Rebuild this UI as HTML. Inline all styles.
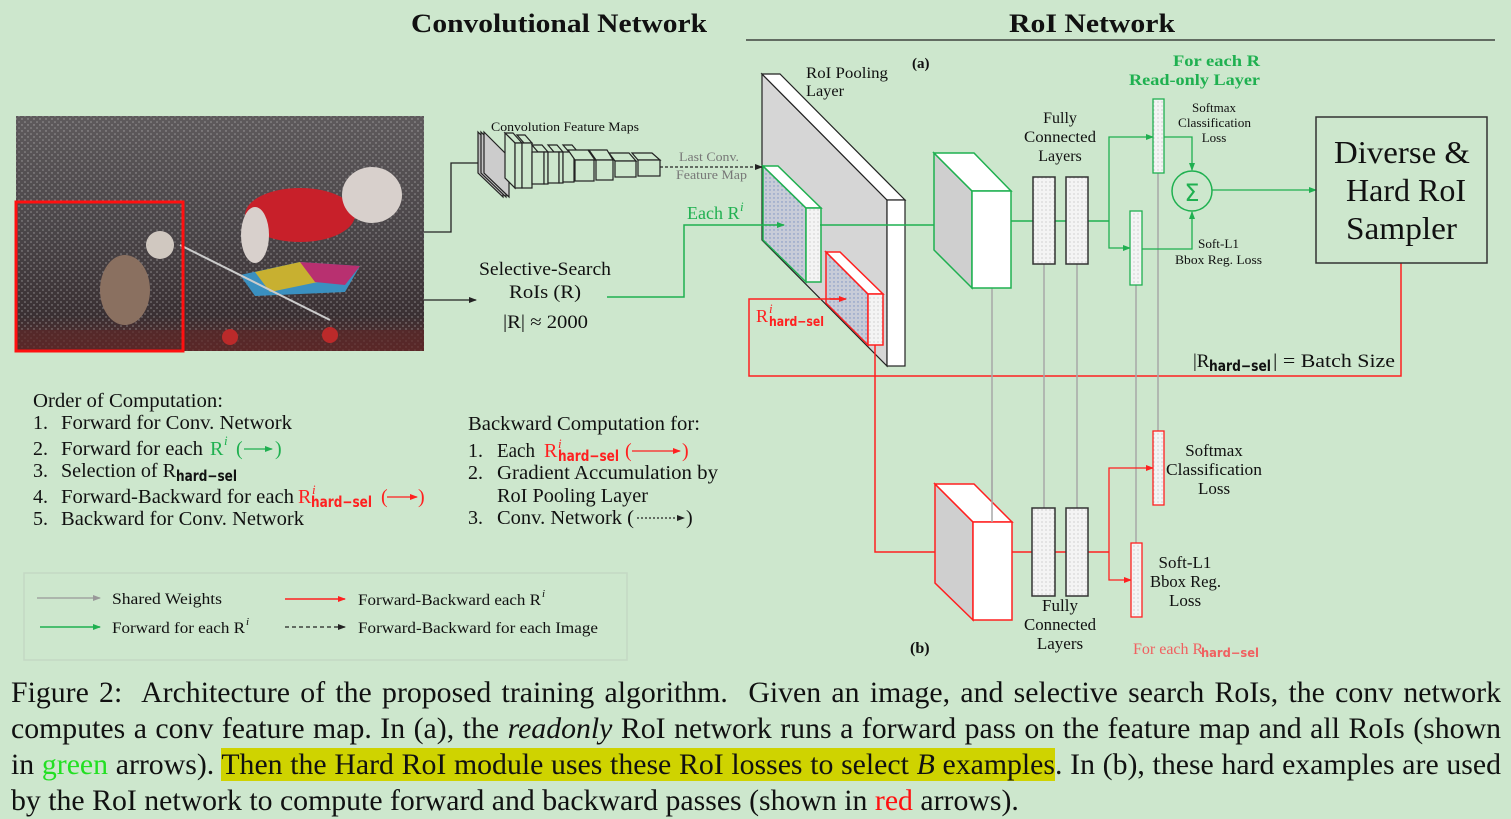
<!DOCTYPE html>
<html><head><meta charset="utf-8"><style>
html,body{margin:0;padding:0;background:#cde7cd;}
body{width:1511px;height:816px;position:relative;overflow:hidden;font-family:"Liberation Serif",serif;}
svg{position:absolute;left:0;top:0;}
.cap{position:absolute;left:11px;width:1490px;font-size:29.8px;line-height:36px;color:#111;text-align:justify;text-align-last:justify;white-space:nowrap;}
.cap.last{text-align-last:left;}
.hl{background:#cfd300;}
</style></head><body>
<svg width="1511" height="816" viewBox="0 0 1511 816" font-family="Liberation Serif, serif">
<defs>
<marker id="ak" markerWidth="8" markerHeight="6" refX="7" refY="3" orient="auto" markerUnits="userSpaceOnUse"><path d="M0,0 L8,3 L0,6 z" fill="#222"/></marker>
<marker id="ag" markerWidth="8" markerHeight="6" refX="7" refY="3" orient="auto" markerUnits="userSpaceOnUse"><path d="M0,0 L8,3 L0,6 z" fill="#1fb050"/></marker>
<marker id="ar" markerWidth="8" markerHeight="6" refX="7" refY="3" orient="auto" markerUnits="userSpaceOnUse"><path d="M0,0 L8,3 L0,6 z" fill="#ff2020"/></marker>
<marker id="ay" markerWidth="8" markerHeight="6" refX="7" refY="3" orient="auto" markerUnits="userSpaceOnUse"><path d="M0,0 L8,3 L0,6 z" fill="#999"/></marker>
<pattern id="dots" width="4" height="4" patternUnits="userSpaceOnUse"><rect width="4" height="4" fill="#f4f4f4"/><circle cx="2" cy="2" r="0.6" fill="#bbb"/></pattern>
<pattern id="bdots" width="4" height="4" patternUnits="userSpaceOnUse"><rect width="4" height="4" fill="#c8ccd8"/><circle cx="2" cy="2" r="0.7" fill="#7a90c0"/></pattern>
<linearGradient id="ph" x1="0" y1="0" x2="0" y2="1"><stop offset="0" stop-color="#5e5a5c"/><stop offset="0.5" stop-color="#4a4548"/><stop offset="0.85" stop-color="#3a3033"/><stop offset="1" stop-color="#5b2a2a"/></linearGradient>
<pattern id="spk" width="6" height="6" patternUnits="userSpaceOnUse"><circle cx="1" cy="2" r="0.8" fill="#bbb" opacity="0.6"/><circle cx="4" cy="5" r="0.7" fill="#eee" opacity="0.5"/></pattern>
</defs>

<text x="411" y="32" font-size="26" font-weight="bold" fill="#111" textLength="296" lengthAdjust="spacingAndGlyphs">Convolutional Network</text>
<text x="1009" y="32" font-size="26" font-weight="bold" fill="#111" textLength="166" lengthAdjust="spacingAndGlyphs">RoI Network</text>
<line x1="746" y1="40" x2="1495" y2="40" stroke="#222" stroke-width="1.2"/>

<rect x="16" y="116" width="408" height="235" fill="url(#ph)"/>
<rect x="16" y="116" width="408" height="235" fill="url(#spk)"/>
<rect x="16" y="330" width="408" height="21" fill="#5a2828" opacity="0.7"/>
<ellipse cx="300" cy="215" rx="55" ry="27" fill="#c8202a"/>
<ellipse cx="372" cy="195" rx="30" ry="28" fill="#d8d0cc"/>
<ellipse cx="255" cy="235" rx="14" ry="28" fill="#d8d0cc"/>
<path d="M240,275 L300,262 L360,266 L345,292 L255,296 z" fill="#3a90c0"/>
<path d="M255,272 L300,262 L318,282 L270,292 z" fill="#c8b030"/>
<path d="M300,262 L360,266 L345,285 L315,282 z" fill="#b83070"/>
<circle cx="230" cy="337" r="8" fill="#bb2a2a"/><circle cx="330" cy="335" r="8" fill="#bb2a2a"/>
<line x1="180" y1="245" x2="330" y2="320" stroke="#ccc" stroke-width="2"/>
<ellipse cx="125" cy="290" rx="25" ry="35" fill="#8a7060"/>
<ellipse cx="160" cy="245" rx="14" ry="14" fill="#d0c8c0"/>
<rect x="16" y="202" width="167" height="149" fill="none" stroke="#ff1010" stroke-width="3"/>

<polyline points="424,232 451,232 451,163 488,163" fill="none" stroke="#222" stroke-width="1.3" marker-end="url(#ak)"/>
<line x1="424" y1="300" x2="476" y2="300" stroke="#222" stroke-width="1.3" marker-end="url(#ak)"/>

<text x="491" y="131" font-size="13" fill="#111" textLength="148" lengthAdjust="spacingAndGlyphs">Convolution Feature Maps</text>
<g stroke="#222" stroke-width="1.2">
<polygon points="478,132 503,157 503,197 478,173" fill="#bbb"/>
<polygon points="481,132 506,157 506,197 481,173" fill="#c4c4c4"/>
<polygon points="484,132 509,157 509,197 484,173" fill="#ccc"/>
<polygon points="505,133 513,133 522,143 515,143" fill="#cde7cd"/>
<polygon points="505,133 515,143 515,188 505,178" fill="#cde7cd"/>
<rect x="515" y="143" width="7" height="45" fill="#cde7cd"/>
<polygon points="517,135 525,135 532,143 524,143" fill="#cde7cd"/>
<rect x="522" y="143" width="10" height="45" fill="#cde7cd"/>
<polygon points="532,145 542,145 548,152 538,152" fill="#cde7cd"/>
<rect x="532" y="152" width="12" height="32" fill="#cde7cd"/><rect x="544" y="152" width="4" height="32" fill="#cde7cd"/>
<polygon points="548,145 557,145 563,152 554,152" fill="#cde7cd"/>
<rect x="548" y="152" width="11" height="31" fill="#cde7cd"/><rect x="559" y="152" width="4" height="31" fill="#cde7cd"/>
<polygon points="563,145 572,145 578,152 569,152" fill="#cde7cd"/>
<rect x="563" y="152" width="11" height="30" fill="#cde7cd"/>
<polygon points="568,150 588,150 595,160 575,160" fill="#cde7cd"/>
<rect x="575" y="160" width="19" height="21" fill="#cde7cd"/>
<polygon points="589,150 607,150 613,160 596,160" fill="#cde7cd"/>
<rect x="596" y="160" width="17" height="20" fill="#cde7cd"/>
<polygon points="609,153 629,153 636,161 615,161" fill="#cde7cd"/>
<rect x="615" y="161" width="21" height="16" fill="#cde7cd"/>
<polygon points="632,153 652,153 660,160 638,160" fill="#cde7cd"/>
<rect x="638" y="160" width="22" height="16" fill="#cde7cd"/>
</g>
<line x1="660" y1="167" x2="762" y2="167" stroke="#222" stroke-width="1.2" stroke-dasharray="3,2" marker-end="url(#ak)"/>
<text x="679" y="161" font-size="13" fill="#777" textLength="60" lengthAdjust="spacingAndGlyphs">Last Conv.</text>
<text x="676" y="179" font-size="13" fill="#777" textLength="71" lengthAdjust="spacingAndGlyphs">Feature Map</text>

<text x="479" y="275" font-size="19" fill="#111" textLength="132" lengthAdjust="spacingAndGlyphs">Selective-Search</text>
<text x="509" y="298" font-size="19" fill="#111" textLength="72" lengthAdjust="spacingAndGlyphs">RoIs (R)</text>
<text x="503" y="328" font-size="19" fill="#111" textLength="85" lengthAdjust="spacingAndGlyphs">|R| ≈ 2000</text>

<polygon points="762,74 887,200 887,366 762,240" fill="#d6d6d6" stroke="#222" stroke-width="1.2"/>
<polygon points="762,74 780,74 905,200 887,200" fill="#fff" stroke="#222" stroke-width="1.2"/>
<rect x="887" y="200" width="18" height="166" fill="#fff" stroke="#222" stroke-width="1.2"/>
<text x="806" y="78" font-size="16" fill="#111" textLength="82" lengthAdjust="spacingAndGlyphs">RoI Pooling</text>
<text x="806" y="96" font-size="16" fill="#111" textLength="38" lengthAdjust="spacingAndGlyphs">Layer</text>
<text x="912" y="68" font-size="15" font-weight="bold" fill="#111">(a)</text>

<polygon points="763,166 806,208 806,282 763,240" fill="url(#bdots)" stroke="#1fb050" stroke-width="1.5"/>
<polygon points="763,166 778,166 821,208 806,208" fill="#fff" stroke="#1fb050" stroke-width="1.5"/>
<rect x="806" y="208" width="15" height="74" fill="url(#dots)" stroke="#1fb050" stroke-width="1.5"/>
<polygon points="826,252 868,294 868,345 826,303" fill="url(#bdots)" stroke="#ff2020" stroke-width="1.5"/>
<polygon points="826,252 840,252 883,294 868,294" fill="#fff" stroke="#ff2020" stroke-width="1.5"/>
<rect x="868" y="294" width="15" height="51" fill="url(#dots)" stroke="#ff2020" stroke-width="1.5"/>

<polyline points="607,297 684,297 684,225 784,225" fill="none" stroke="#1fb050" stroke-width="1.5" marker-end="url(#ag)"/>
<line x1="820" y1="225" x2="948" y2="225" stroke="#1fb050" stroke-width="1.5" marker-end="url(#ag)"/>
<text x="687" y="219" font-size="18" fill="#1fb050">Each R</text>
<text x="740" y="211" font-size="13" font-style="italic" fill="#1fb050">i</text>

<polyline points="844,299 749,299 749,376 1401,376 1401,263" fill="none" stroke="#ff2020" stroke-width="1.5"/>
<line x1="830" y1="299" x2="846" y2="299" stroke="#ff2020" stroke-width="1.5" marker-end="url(#ar)"/>
<polyline points="875,345 875,552 952,552" fill="none" stroke="#ff2020" stroke-width="1.5" marker-end="url(#ar)"/>
<text x="756" y="322" font-size="18" fill="#ff2020">R</text>
<text x="769" y="326" font-size="13" font-weight="bold" font-family="DejaVu Sans, sans-serif" fill="#ff2020" textLength="55" lengthAdjust="spacingAndGlyphs">hard−sel</text>
<text x="769" y="313" font-size="13" font-style="italic" fill="#ff2020">i</text>

<g stroke="#a8a8a8" stroke-width="1.5">
<line x1="992" y1="288" x2="992" y2="522"/>
<line x1="1044" y1="264" x2="1044" y2="508"/>
<line x1="1077" y1="264" x2="1077" y2="508"/>
<line x1="1136" y1="285" x2="1136" y2="543"/>
<line x1="1158" y1="173" x2="1158" y2="431"/>
</g>

<polygon points="934,153 972,191 972,288 934,250" fill="#cfcfcf" stroke="#1fb050" stroke-width="1.5"/>
<polygon points="934,153 974,153 1011,191 972,191" fill="#fff" stroke="#1fb050" stroke-width="1.5"/>
<rect x="972" y="191" width="39" height="97" fill="#fff" stroke="#1fb050" stroke-width="1.5"/>
<line x1="1011" y1="221" x2="1109" y2="221" stroke="#1fb050" stroke-width="1.5"/>
<rect x="1033" y="177" width="22" height="87" fill="url(#dots)" stroke="#333" stroke-width="1.5"/>
<rect x="1066" y="177" width="22" height="87" fill="url(#dots)" stroke="#333" stroke-width="1.5"/>
<polyline points="1109,221 1109,137 1153,137" fill="none" stroke="#1fb050" stroke-width="1.3" marker-end="url(#ag)"/>
<polyline points="1109,221 1109,248 1130,248" fill="none" stroke="#1fb050" stroke-width="1.3" marker-end="url(#ag)"/>
<rect x="1153" y="99" width="11" height="74" fill="url(#dots)" stroke="#1fb050" stroke-width="1.3"/>
<rect x="1130" y="211" width="12" height="74" fill="url(#dots)" stroke="#1fb050" stroke-width="1.3"/>
<polyline points="1164,137 1192,137 1192,170" fill="none" stroke="#1fb050" stroke-width="1.3" marker-end="url(#ag)"/>
<polyline points="1142,249 1192,249 1192,212" fill="none" stroke="#1fb050" stroke-width="1.3" marker-end="url(#ag)"/>
<circle cx="1192" cy="191" r="20" fill="none" stroke="#1fb050" stroke-width="1.5"/>
<text x="1192" y="201" font-size="24" fill="#1fb050" text-anchor="middle" font-family="DejaVu Sans, sans-serif">Σ</text>
<line x1="1212" y1="190" x2="1316" y2="190" stroke="#1fb050" stroke-width="1.3" marker-end="url(#ag)"/>
<text x="1060" y="123" font-size="16" text-anchor="middle" fill="#111">Fully</text>
<text x="1024" y="142" font-size="16" fill="#111" textLength="72" lengthAdjust="spacingAndGlyphs">Connected</text>
<text x="1060" y="161" font-size="16" text-anchor="middle" fill="#111">Layers</text>
<text x="1214" y="112" font-size="13" text-anchor="middle" fill="#111">Softmax</text>
<text x="1178" y="127" font-size="13" fill="#111" textLength="73" lengthAdjust="spacingAndGlyphs">Classification</text>
<text x="1214" y="142" font-size="13" text-anchor="middle" fill="#111">Loss</text>
<text x="1198" y="248" font-size="13" fill="#111" textLength="41" lengthAdjust="spacingAndGlyphs">Soft-L1</text>
<text x="1175" y="264" font-size="13" fill="#111" textLength="87" lengthAdjust="spacingAndGlyphs">Bbox Reg. Loss</text>
<text x="1173" y="66" font-size="16" font-weight="bold" fill="#1fb050" textLength="87" lengthAdjust="spacingAndGlyphs">For each R</text>
<text x="1129" y="85" font-size="16" font-weight="bold" fill="#1fb050" textLength="131" lengthAdjust="spacingAndGlyphs">Read-only Layer</text>

<rect x="1316" y="117" width="171" height="146" fill="none" stroke="#333" stroke-width="1.5"/>
<text x="1334" y="163" font-size="32" fill="#111" textLength="136" lengthAdjust="spacingAndGlyphs">Diverse &amp;</text>
<text x="1346" y="201" font-size="32" fill="#111" textLength="120" lengthAdjust="spacingAndGlyphs">Hard RoI</text>
<text x="1346" y="239" font-size="32" fill="#111" textLength="111" lengthAdjust="spacingAndGlyphs">Sampler</text>
<text x="1193" y="367" font-size="19" fill="#111">|R</text>
<text x="1209" y="371" font-size="15" font-weight="bold" font-family="DejaVu Sans, sans-serif" fill="#111" textLength="62" lengthAdjust="spacingAndGlyphs">hard−sel</text>
<text x="1273" y="367" font-size="19" fill="#111" textLength="122" lengthAdjust="spacingAndGlyphs">| = Batch Size</text>

<polygon points="935,484 973,522 973,620 935,583" fill="#cfcfcf" stroke="#ff2020" stroke-width="1.5"/>
<polygon points="935,484 974,484 1012,522 973,522" fill="#fff" stroke="#ff2020" stroke-width="1.5"/>
<rect x="973" y="522" width="39" height="98" fill="#fff" stroke="#ff2020" stroke-width="1.5"/>
<line x1="992" y1="460" x2="992" y2="522" stroke="#a8a8a8" stroke-width="1.5"/>
<line x1="1012" y1="552" x2="1109" y2="552" stroke="#ff2020" stroke-width="1.5"/>
<rect x="1032" y="508" width="23" height="88" fill="url(#dots)" stroke="#333" stroke-width="1.5"/>
<rect x="1066" y="508" width="22" height="88" fill="url(#dots)" stroke="#333" stroke-width="1.5"/>
<polyline points="1109,552 1109,468 1153,468" fill="none" stroke="#ff2020" stroke-width="1.3" marker-end="url(#ar)"/>
<polyline points="1109,552 1109,580 1131,580" fill="none" stroke="#ff2020" stroke-width="1.3" marker-end="url(#ar)"/>
<rect x="1153" y="431" width="11" height="74" fill="url(#dots)" stroke="#ff2020" stroke-width="1.3"/>
<rect x="1131" y="543" width="11" height="74" fill="url(#dots)" stroke="#ff2020" stroke-width="1.3"/>
<text x="1214" y="456" font-size="17" text-anchor="middle" fill="#111">Softmax</text>
<text x="1166" y="475" font-size="17" fill="#111" textLength="96" lengthAdjust="spacingAndGlyphs">Classification</text>
<text x="1214" y="494" font-size="17" text-anchor="middle" fill="#111">Loss</text>
<text x="1185" y="568" font-size="17" text-anchor="middle" fill="#111">Soft-L1</text>
<text x="1150" y="587" font-size="17" fill="#111" textLength="71" lengthAdjust="spacingAndGlyphs">Bbox Reg.</text>
<text x="1185" y="606" font-size="17" text-anchor="middle" fill="#111">Loss</text>
<text x="1060" y="611" font-size="17" text-anchor="middle" fill="#111">Fully</text>
<text x="1024" y="630" font-size="17" fill="#111" textLength="72" lengthAdjust="spacingAndGlyphs">Connected</text>
<text x="1060" y="649" font-size="17" text-anchor="middle" fill="#111">Layers</text>
<text x="910" y="653" font-size="16" font-weight="bold" fill="#111">(b)</text>
<text x="1133" y="654" font-size="16" fill="#f06060">For each R</text>
<text x="1201" y="657" font-size="12" font-weight="bold" font-family="DejaVu Sans, sans-serif" fill="#f06060" textLength="58" lengthAdjust="spacingAndGlyphs">hard−sel</text>

<g font-size="20" fill="#111">
<text x="33" y="407" textLength="190" lengthAdjust="spacingAndGlyphs">Order of Computation:</text>
<text x="33" y="429">1.</text><text x="61" y="429" textLength="231" lengthAdjust="spacingAndGlyphs">Forward for Conv. Network</text>
<text x="33" y="455">2.</text><text x="61" y="455" textLength="142" lengthAdjust="spacingAndGlyphs">Forward for each</text>
<text x="210" y="455" fill="#1fb050">R</text><text x="224" y="445" font-size="13" font-style="italic" fill="#1fb050">i</text>
<text x="236" y="455" fill="#1fb050">(</text><text x="275" y="455" fill="#1fb050">)</text>
<text x="33" y="477">3.</text><text x="61" y="477" textLength="115" lengthAdjust="spacingAndGlyphs">Selection of R</text>
<text x="33" y="503">4.</text><text x="61" y="503" textLength="233" lengthAdjust="spacingAndGlyphs">Forward-Backward for each</text>
<text x="298" y="503" fill="#ff2020">R</text>
<text x="381" y="503" fill="#ff2020">(</text><text x="418" y="503" fill="#ff2020">)</text>
<text x="33" y="525">5.</text><text x="61" y="525" textLength="243" lengthAdjust="spacingAndGlyphs">Backward for Conv. Network</text>
<text x="468" y="430" textLength="232" lengthAdjust="spacingAndGlyphs">Backward Computation for:</text>
<text x="468" y="457">1.</text><text x="497" y="457" textLength="38" lengthAdjust="spacingAndGlyphs">Each</text>
<text x="544" y="457" fill="#ff2020">R</text>
<text x="625" y="457" fill="#ff2020">(</text><text x="682" y="457" fill="#ff2020">)</text>
<text x="468" y="479">2.</text><text x="497" y="479" textLength="221" lengthAdjust="spacingAndGlyphs">Gradient Accumulation by</text>
<text x="497" y="502" textLength="151" lengthAdjust="spacingAndGlyphs">RoI Pooling Layer</text>
<text x="468" y="524">3.</text><text x="497" y="524" textLength="137" lengthAdjust="spacingAndGlyphs">Conv. Network (</text>
<text x="686" y="524">)</text>
</g>
<g font-size="15" font-weight="bold" font-family="DejaVu Sans, sans-serif">
<text x="176" y="481" fill="#111" textLength="61" lengthAdjust="spacingAndGlyphs">hard−sel</text>
<text x="311" y="507" fill="#ff2020" textLength="61" lengthAdjust="spacingAndGlyphs">hard−sel</text>
<text x="558" y="461" fill="#ff2020" textLength="61" lengthAdjust="spacingAndGlyphs">hard−sel</text>
</g>
<text x="312" y="494" font-size="13" font-style="italic" fill="#ff2020">i</text>
<text x="558" y="448" font-size="13" font-style="italic" fill="#ff2020">i</text>
<line x1="244" y1="449" x2="272" y2="449" stroke="#1fb050" stroke-width="1.2" marker-end="url(#ag)"/>
<line x1="387" y1="497" x2="417" y2="497" stroke="#ff2020" stroke-width="1.2" marker-end="url(#ar)"/>
<line x1="632" y1="451" x2="680" y2="451" stroke="#ff2020" stroke-width="1.2" marker-end="url(#ar)"/>
<line x1="637" y1="518" x2="684" y2="518" stroke="#222" stroke-width="1.2" stroke-dasharray="2,2" marker-end="url(#ak)"/>

<rect x="24" y="573" width="603" height="87" fill="none" stroke="#c4d8c4" stroke-width="1.5"/>
<line x1="37" y1="598" x2="100" y2="598" stroke="#999" stroke-width="1.3" marker-end="url(#ay)"/>
<text x="112" y="604" font-size="16" fill="#111" textLength="110" lengthAdjust="spacingAndGlyphs">Shared Weights</text>
<line x1="40" y1="627" x2="100" y2="627" stroke="#1fb050" stroke-width="1.5" marker-end="url(#ag)"/>
<text x="112" y="633" font-size="16" fill="#111" textLength="133" lengthAdjust="spacingAndGlyphs">Forward for each R</text>
<text x="246" y="625" font-size="11" font-style="italic" fill="#111">i</text>
<line x1="285" y1="599" x2="345" y2="599" stroke="#ff2020" stroke-width="1.5" marker-end="url(#ar)"/>
<text x="358" y="605" font-size="16" fill="#111" textLength="183" lengthAdjust="spacingAndGlyphs">Forward-Backward each R</text>
<text x="542" y="597" font-size="11" font-style="italic" fill="#111">i</text>
<line x1="285" y1="627" x2="345" y2="627" stroke="#222" stroke-width="1.3" stroke-dasharray="4,3" marker-end="url(#ak)"/>
<text x="358" y="633" font-size="16" fill="#111" textLength="240" lengthAdjust="spacingAndGlyphs">Forward-Backward for each Image</text>
</svg>

<div class="cap" style="top:675px">Figure 2:&nbsp; Architecture of the proposed training algorithm.&nbsp; Given an image, and selective search RoIs, the conv network</div>
<div class="cap" style="top:711px">computes a conv feature map. In (a), the <i>readonly</i> RoI network runs a forward pass on the feature map and all RoIs (shown</div>
<div class="cap" style="top:747px">in <span style="color:#22e022">green</span> arrows). <span class="hl">Then the Hard RoI module uses these RoI losses to select <i>B</i> examples</span>. In (b), these hard examples are used</div>
<div class="cap last" style="top:783px">by the RoI network to compute forward and backward passes (shown in <span style="color:#ff1010">red</span> arrows).</div>
</body></html>
